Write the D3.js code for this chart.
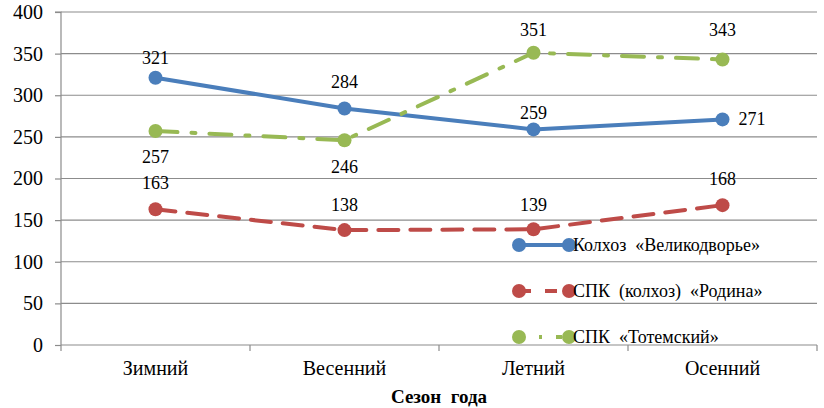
<!DOCTYPE html>
<html><head><meta charset="utf-8">
<script src="https://cdn.jsdelivr.net/npm/d3@7"></script>
</head>
<body style="margin:0"><svg id="c" width="824" height="408" font-family="Liberation Serif"></svg>
<script>
const categories = ["Зимний","Весенний","Летний","Осенний"];
const seriesNames = ["Колхоз  «Великодворье»","СПК  (колхоз)  «Родина»","СПК  «Тотемский»"];
const velikodvorye = [321,284,259,271];
const rodina = [163,138,139,168];
const totemsky = [257,246,351,343];
const yTicks = [0,50,100,150,200,250,300,350,400];
const xTitle = "Сезон  года";

(function(){
const FF = "Liberation Serif";
const colors = ["#4A7EBB","#BE4B48","#98B954"];
const dashes = [null,"20,12","22,14,4,14"];
const labelOffsets = [
  [[0,-14],[0,-21],[0,-10],[16,6]],
  [[0,-20],[0,-19],[0,-18],[0,-20]],
  [[0,32],[0,33],[0,-17],[0,-23]]
];
const series = [velikodvorye, rodina, totemsky];

const svg = d3.select("#c");
const mL = 61, mR = 817, mT = 12, mB = 345;
const x = d3.scaleBand().domain(categories).range([mL,mR]);
const y = d3.scaleLinear().domain([0,400]).range([mB,mT]);

svg.append("g").selectAll("line").data(yTicks.filter(d=>d>0)).join("line")
  .attr("x1",mL).attr("x2",mR).attr("y1",d=>y(d)).attr("y2",d=>y(d))
  .attr("stroke","#8c8c8c").attr("stroke-width",1.2);

const ya = svg.append("g").attr("transform",`translate(${mL},0)`)
  .call(d3.axisLeft(y).tickValues(yTicks).tickSize(6).tickPadding(12));
ya.attr("font-family",FF).attr("font-size",20);
ya.select(".domain").attr("stroke","#8c8c8c").attr("stroke-width",1.2).attr("d",`M-6,${mT}H0V${mB}`);
ya.selectAll(".tick line").attr("stroke","#8c8c8c").attr("stroke-width",1.2);
ya.selectAll("text").attr("fill","#000");

const xa = svg.append("g").attr("transform",`translate(0,${mB})`)
  .call(d3.axisBottom(x).tickSize(0).tickPadding(16));
xa.attr("font-family",FF).attr("font-size",20);
xa.select(".domain").attr("stroke","#8c8c8c").attr("stroke-width",1.2).attr("d",`M${mL},0H${mR}`);
xa.selectAll("text").attr("fill","#000");
const bounds = categories.map(c=>x(c)).concat([x(categories[categories.length-1])+x.bandwidth()]);
svg.append("g").selectAll("line").data(bounds).join("line")
  .attr("x1",d=>d).attr("x2",d=>d).attr("y1",mB).attr("y2",mB+6)
  .attr("stroke","#8c8c8c").attr("stroke-width",1.2);

svg.append("text").attr("x",439).attr("y",403).attr("text-anchor","middle")
  .attr("font-family",FF).attr("font-size",19).attr("font-weight","bold").attr("xml:space","preserve").text(xTitle);

const cx = c => x(c)+x.bandwidth()/2;
const line = d3.line().x((d,i)=>cx(categories[i])).y(d=>y(d));

series.forEach((vals,si)=>{
  const g = svg.append("g");
  g.append("path").datum(vals).attr("d",line).attr("fill","none")
    .attr("stroke",colors[si]).attr("stroke-width",4).attr("stroke-linecap","round")
    .attr("stroke-dasharray",dashes[si]);
  g.selectAll("circle").data(vals).join("circle")
    .attr("cx",(d,i)=>cx(categories[i])).attr("cy",d=>y(d)).attr("r",7).attr("fill",colors[si]);
  g.selectAll("text").data(vals).join("text")
    .attr("x",(d,i)=>cx(categories[i])+labelOffsets[si][i][0])
    .attr("y",(d,i)=>y(d)+labelOffsets[si][i][1])
    .attr("text-anchor",(d,i)=>labelOffsets[si][i][0]>0?"start":"middle")
    .attr("font-family",FF).attr("font-size",18).text(d=>d);
});

const lg = svg.append("g");
seriesNames.forEach((n,i)=>{
  const yy = 245 + i*46;
  lg.append("line").attr("x1",519).attr("x2",569).attr("y1",yy).attr("y2",yy)
    .attr("stroke",colors[i]).attr("stroke-width",4).attr("stroke-dasharray",dashes[i]?(i==1?"12,14":"6,14,3,14"):null);
  lg.append("circle").attr("cx",519).attr("cy",yy).attr("r",7).attr("fill",colors[i]);
  lg.append("circle").attr("cx",569).attr("cy",yy).attr("r",7).attr("fill",colors[i]);
  lg.append("text").attr("x",573).attr("y",yy+6).attr("font-family",FF).attr("font-size",18)
    .attr("xml:space","preserve").text(n);
});
})();
</script></body></html>
